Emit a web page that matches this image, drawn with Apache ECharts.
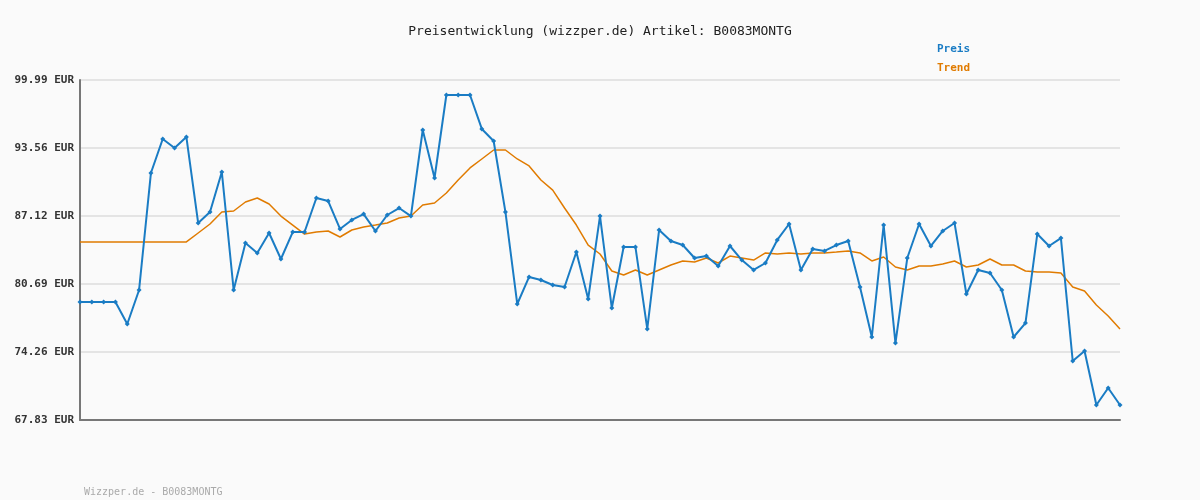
<!DOCTYPE html>
<html><head><meta charset="utf-8">
<script src="https://cdn.jsdelivr.net/npm/echarts@6/dist/echarts.min.js"></script>
<style>html,body{margin:0;background:#fafafa}#c{width:1200px;height:500px}</style>
</head><body><div id="c"></div>
<script>
const preis = [78.99,78.99,78.99,78.99,76.91,80.13,91.19,94.41,93.56,94.60,86.46,87.50,91.29,80.13,84.57,83.63,85.52,83.06,85.61,85.61,88.83,88.54,85.90,86.75,87.31,85.71,87.22,87.88,87.12,95.26,
90.72,98.57,98.57,98.57,95.36,94.22,87.50,78.80,81.36,81.07,80.60,80.41,83.72,79.28,87.12,78.42,84.19,84.19,76.44,85.80,84.76,84.38,83.15,83.34,82.40,84.29,82.96,82.02,82.68,84.86,
86.37,82.02,84.00,83.82,84.38,84.76,80.41,75.68,86.27,75.11,83.15,86.37,84.29,85.71,86.46,79.75,82.02,81.73,80.13,75.68,77.00,85.42,84.29,85.04,73.41,74.36,69.25,70.86,69.25];
const trend = [84.67,84.67,84.67,84.67,84.67,84.67,84.67,84.67,84.67,84.67,85.52,86.37,87.50,87.60,88.45,88.83,88.26,87.12,86.27,85.42,85.61,85.71,85.14,85.80,86.09,86.27,86.46,86.94,87.12,88.17,
88.36,89.30,90.53,91.67,92.52,93.37,93.37,92.52,91.86,90.53,89.58,87.88,86.27,84.38,83.53,81.92,81.55,82.02,81.55,82.02,82.49,82.87,82.77,83.15,82.68,83.34,83.15,82.96,83.63,83.53,
83.63,83.53,83.63,83.63,83.72,83.82,83.63,82.87,83.25,82.30,82.02,82.40,82.40,82.59,82.87,82.30,82.49,83.06,82.49,82.49,81.92,81.83,81.83,81.73,80.41,80.03,78.71,77.67,76.44];
const tickLabels = ['67.83 EUR','74.26 EUR','80.69 EUR','87.12 EUR','93.56 EUR','99.99 EUR'];
const categories = preis.map((_, i) => String(i + 1));
const yMin = 67.83, yMax = 99.99, yStep = 6.432;
const mono = 'DejaVu Sans Mono';
const chart = echarts.init(document.getElementById('c'));
chart.setOption({
  backgroundColor: '#fafafa',
  animation: false,
  title: [{text: 'Preisentwicklung (wizzper.de) Artikel: B0083MONTG', left: 'center', top: 20,
    textStyle: {fontFamily: mono, fontSize: 13, fontWeight: 'normal', color: '#222'}},
    {text: 'Wizzper.de - B0083MONTG', left: 79, top: 482, textStyle: {fontFamily: mono, fontSize: 10, fontWeight: 'normal', color: '#aaa'}}],
  legend: {right: 225, top: 39, orient: 'vertical', itemWidth: 0, itemHeight: 0, itemGap: 8, icon: 'none',
    data: [{name: 'Preis', textStyle: {color: '#1a7cc4'}}, {name: 'Trend', textStyle: {color: '#e07b00'}}],
    textStyle: {fontFamily: mono, fontSize: 11, fontWeight: 'bold'}},
  grid: {left: 80, right: 80, top: 80, bottom: 80},
  xAxis: {type: 'category', data: categories, boundaryGap: false,
    axisLine: {lineStyle: {color: '#777', width: 2}}, axisTick: {show: false}, axisLabel: {show: false}},
  yAxis: {type: 'value', min: yMin, max: yMax, interval: yStep,
    axisLine: {show: true, lineStyle: {color: '#777', width: 2}}, axisTick: {show: false},
    splitLine: {lineStyle: {color: '#e4e4e4', width: 2}},
    axisLabel: {fontFamily: mono, fontSize: 11, fontWeight: 'bold', color: '#333', margin: 6,
      formatter: v => tickLabels[Math.round((v - yMin) / yStep)] || ''}},
  series: [
    {name: 'Preis', type: 'line', data: preis, symbol: 'diamond', symbolSize: 5,
      lineStyle: {color: '#1a7cc4', width: 2}, itemStyle: {color: '#1a7cc4'}, z: 3},
    {name: 'Trend', type: 'line', data: trend, symbol: 'none',
      lineStyle: {color: '#e07b00', width: 1.5}, itemStyle: {color: '#e07b00'}, z: 2}
  ]
});
</script></body></html>
